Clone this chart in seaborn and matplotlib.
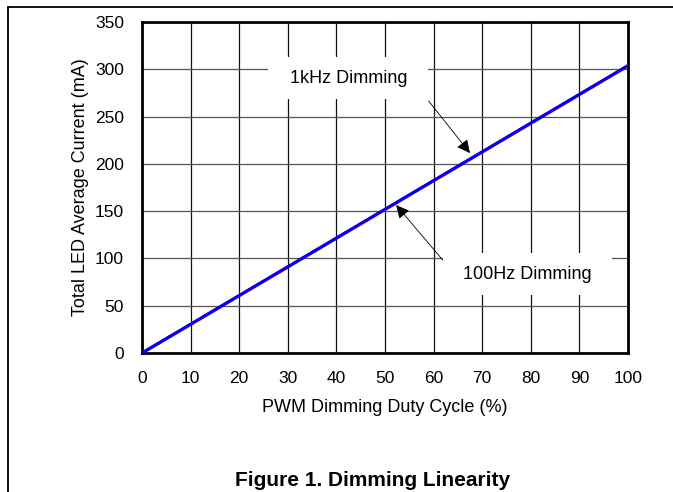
import pandas as pd
import matplotlib
matplotlib.use('Agg')
import matplotlib.pyplot as plt
from matplotlib.lines import Line2D
from matplotlib.patches import Rectangle
import seaborn as sns

# Данні
duty = [0, 10, 20, 30, 40, 50, 60, 70, 80, 90, 100]
current_100hz = [0, 30.3, 60.7, 91.0, 121.4, 151.8, 182.2, 212.5, 242.9, 273.3, 303.7]
current_1khz = [0, 30.4, 60.8, 91.2, 121.6, 152.0, 182.4, 212.8, 243.2, 273.6, 304.0]
x_ticks = [0, 10, 20, 30, 40, 50, 60, 70, 80, 90, 100]
y_ticks = [0, 50, 100, 150, 200, 250, 300, 350]

df = pd.DataFrame({
    'duty': duty * 2,
    'current': current_100hz + current_1khz,
    'freq': ['100Hz'] * len(duty) + ['1kHz'] * len(duty),
})

sns.set_style('white')
plt.rcParams['font.family'] = ['Liberation Sans', 'DejaVu Sans']
plt.rcParams['text.color'] = 'black'
plt.rcParams['axes.labelcolor'] = 'black'

fig = plt.figure(figsize=(6.73, 4.92), dpi=100)
ax = fig.add_axes([0.211, 0.2825, 0.722, 0.6725])

sns.lineplot(data=df, x='duty', y='current', hue='freq',
             palette={'100Hz': '#e0002a', '1kHz': '#0000ff'},
             linewidth=2.2, legend=False, ax=ax, zorder=4)

ax.set_xlim(0, 100)
ax.set_ylim(0, 350)
ax.set_xticks(x_ticks)
ax.set_yticks(y_ticks)
ax.tick_params(axis='both', length=0, labelsize=12.5, colors='black')
ax.tick_params(axis='x', pad=13)
ax.tick_params(axis='y', pad=13)

# Сітка
ax.xaxis.grid(True, color='#111111', linewidth=0.9)
ax.yaxis.grid(True, color='#555555', linewidth=0.9)
ax.set_axisbelow(True)
for s in ax.spines.values():
    s.set_visible(True)
    s.set_color('black')
    s.set_linewidth(2)

ax.set_xlabel('PWM Dimming Duty Cycle (%)', fontsize=13, labelpad=9)
ax.set_ylabel('Total LED Average Current (mA)', fontsize=13, labelpad=4)

# Підписи з білими рамками
ax.add_patch(Rectangle((25.9, 268.6), 32.9, 44.4, facecolor='white',
                       edgecolor='none', zorder=2))
ax.text(42.5, 290, '1kHz Dimming', ha='center', va='center', fontsize=13, zorder=3)
ax.annotate('', xy=(67.5, 211.5), xytext=(59.0, 266.5),
            arrowprops=dict(arrowstyle='-|>', color='black', lw=0.6,
                            mutation_scale=20, shrinkA=0, shrinkB=0), zorder=5)

ax.add_patch(Rectangle((61.9, 61.3), 34.8, 44.4, facecolor='white',
                       edgecolor='none', zorder=2))
ax.text(79.2, 83, '100Hz Dimming', ha='center', va='center', fontsize=13, zorder=3)
ax.annotate('', xy=(52.3, 156.5), xytext=(61.9, 98.3),
            arrowprops=dict(arrowstyle='-|>', color='black', lw=0.6,
                            mutation_scale=20, shrinkA=0, shrinkB=0), zorder=5)

# Рамка сторінки
fig.add_artist(Line2D([8 / 673, 8 / 673], [0, 1 - 7 / 492], color='black', lw=1.3))
fig.add_artist(Line2D([8 / 673, 1], [1 - 7 / 492, 1 - 7 / 492], color='black', lw=1.3))

fig.text(373 / 673, 1 - 481 / 492, 'Figure 1. Dimming Linearity', ha='center',
         va='center', fontsize=15, fontweight='bold')

fig.savefig('out.png', dpi=100)
